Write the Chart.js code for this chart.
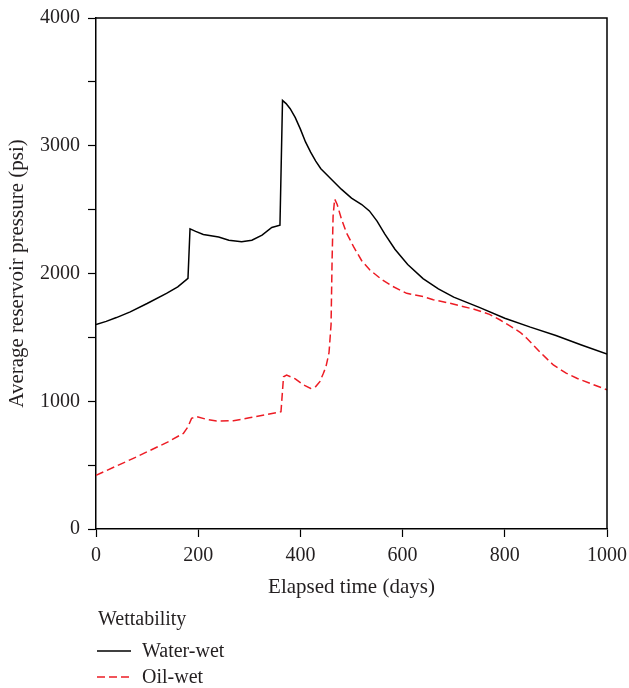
<!DOCTYPE html>
<html>
<head>
<meta charset="utf-8">
<title>Average reservoir pressure</title>
<script src="https://cdn.jsdelivr.net/npm/chart.js@4.4.0/dist/chart.umd.min.js"></script>
<style>
    html, body { margin: 0; padding: 0; background: #fff; }
</style>
</head>
<body>
<canvas id="pressure" width="629" height="688"></canvas>
<script>
// data
const waterDays = [0, 20, 40, 67, 100, 138, 160, 180, 184, 195, 210, 240, 260, 285, 305, 325, 344, 360, 365, 372, 380, 390, 400, 410, 420, 430, 440, 460, 480, 500, 520, 535, 550, 565, 585, 610, 640, 670, 700, 750, 800, 850, 900, 950, 1000];
const waterPsi = [1600, 1625, 1655, 1700, 1765, 1845, 1895, 1962, 2350, 2330, 2305, 2285, 2260, 2248, 2260, 2300, 2360, 2378, 3355, 3330, 3290, 3220, 3130, 3030, 2950, 2880, 2820, 2740, 2660, 2590, 2540, 2490, 2410, 2310, 2190, 2070, 1960, 1880, 1815, 1735, 1650, 1580, 1515, 1440, 1370];

const oilDays = [0, 73, 140, 171, 180, 187, 197, 215, 236, 269, 300, 330, 362, 367, 373, 390, 405, 420, 430, 438, 445, 450, 456, 460, 462, 464, 467, 472, 480, 490, 504, 520, 536, 560, 580, 608, 640, 660, 693, 740, 770, 791, 810, 830, 843, 870, 895, 920, 941, 970, 1000];
const oilPsi = [420, 553, 680, 749, 800, 866, 879, 860, 845, 848, 870, 893, 918, 1192, 1205, 1175, 1130, 1100, 1115, 1153, 1219, 1270, 1380, 1600, 2100, 2450, 2583, 2540, 2430, 2320, 2210, 2100, 2027, 1950, 1900, 1845, 1820, 1795, 1767, 1720, 1680, 1636, 1590, 1540, 1493, 1380, 1284, 1220, 1180, 1135, 1090];

const xTickStep = 200;
const yTickStep = 500;
const yLabelStep = 1000;

const seriesLabels = ['Water-wet', 'Oil-wet'];
const legendTitle = 'Wettability';
const xTitle = 'Elapsed time (days)';
const yTitle = 'Average reservoir pressure (psi)';

const textColor = '#231f20';
const serif = '"Liberation Serif", "Times New Roman", serif';

function toPoints(xs, ys) {
    return xs.map((x, i) => ({ x: x, y: ys[i] }));
}

// closes the box on top/right and draws the legend under the axis title
const frameAndLegend = {
    id: 'frameAndLegend',
    afterDraw(chart) {
        const ctx = chart.ctx;
        const a = chart.chartArea;
        ctx.save();
        ctx.strokeStyle = '#000';
        ctx.lineWidth = 1.5;
        ctx.beginPath();
        ctx.moveTo(a.left, a.top);
        ctx.lineTo(a.right, a.top);
        ctx.lineTo(a.right, a.bottom);
        ctx.stroke();

        ctx.font = '20px ' + serif;
        ctx.fillStyle = textColor;
        ctx.textBaseline = 'middle';
        ctx.textAlign = 'left';
        ctx.fillText(legendTitle, 98, 620);
        chart.data.datasets.forEach((ds, i) => {
            const y = 651 + i * 26;
            ctx.strokeStyle = ds.borderColor;
            ctx.lineWidth = ds.borderWidth;
            ctx.setLineDash(ds.borderDash || []);
            ctx.beginPath();
            ctx.moveTo(97, y);
            ctx.lineTo(131, y);
            ctx.stroke();
            ctx.setLineDash([]);
            ctx.fillText(ds.label, 142, y + 1);
        });
        ctx.restore();
    }
};

const ctx = document.getElementById('pressure').getContext('2d');
const pressureChart = new Chart(ctx, {
    type: 'line',
    data: {
        datasets: [{
            label: seriesLabels[0],
            data: toPoints(waterDays, waterPsi),
            borderColor: '#000000',
            borderWidth: 1.5,
            pointRadius: 0,
            tension: 0
        }, {
            label: seriesLabels[1],
            data: toPoints(oilDays, oilPsi),
            borderColor: 'rgb(237, 28, 36)',
            borderWidth: 1.5,
            borderDash: [8, 4],
            pointRadius: 0,
            tension: 0
        }]
    },
    options: {
        responsive: false,
        animation: false,
        devicePixelRatio: 1,
        layout: {
            padding: { top: 18, right: 22, bottom: 88, left: 0 }
        },
        plugins: {
            legend: { display: false },
            tooltip: { enabled: false }
        },
        scales: {
            x: {
                type: 'linear',
                min: 0,
                max: 1000,
                ticks: {
                    stepSize: xTickStep,
                    color: textColor,
                    font: { family: serif, size: 20 },
                    padding: 7,
                    maxRotation: 0,
                    callback: (v) => String(v)
                },
                grid: {
                    drawOnChartArea: false,
                    tickLength: 8,
                    color: '#000',
                    tickWidth: 1.2
                },
                border: { color: '#000', width: 1.5 },
                title: {
                    display: true,
                    text: xTitle,
                    color: textColor,
                    font: { family: serif, size: 21 },
                    padding: { top: 0, bottom: 0 }
                },
                afterFit: (scale) => {
                    scale.height = 71;
                    // the "1000" label fits inside the right padding already
                    scale.paddingLeft = 0;
                    scale.paddingRight = 0;
                }
            },
            y: {
                min: 0,
                max: 4000,
                ticks: {
                    stepSize: yTickStep,
                    color: textColor,
                    font: { family: serif, size: 20 },
                    padding: 8,
                    callback: (v) => (v % yLabelStep === 0 ? String(v) : '')
                },
                grid: {
                    drawOnChartArea: false,
                    tickLength: 8,
                    color: '#000',
                    tickWidth: 1.2
                },
                border: { color: '#000', width: 1.5 },
                title: {
                    display: true,
                    text: yTitle,
                    color: textColor,
                    font: { family: serif, size: 21 },
                    padding: { top: 5, bottom: 0 }
                },
                afterFit: (scale) => {
                    scale.width = 96;
                    scale.paddingTop = 0;
                    scale.paddingBottom = 0;
                }
            }
        }
    },
    plugins: [frameAndLegend]
});
</script>
</body>
</html>
